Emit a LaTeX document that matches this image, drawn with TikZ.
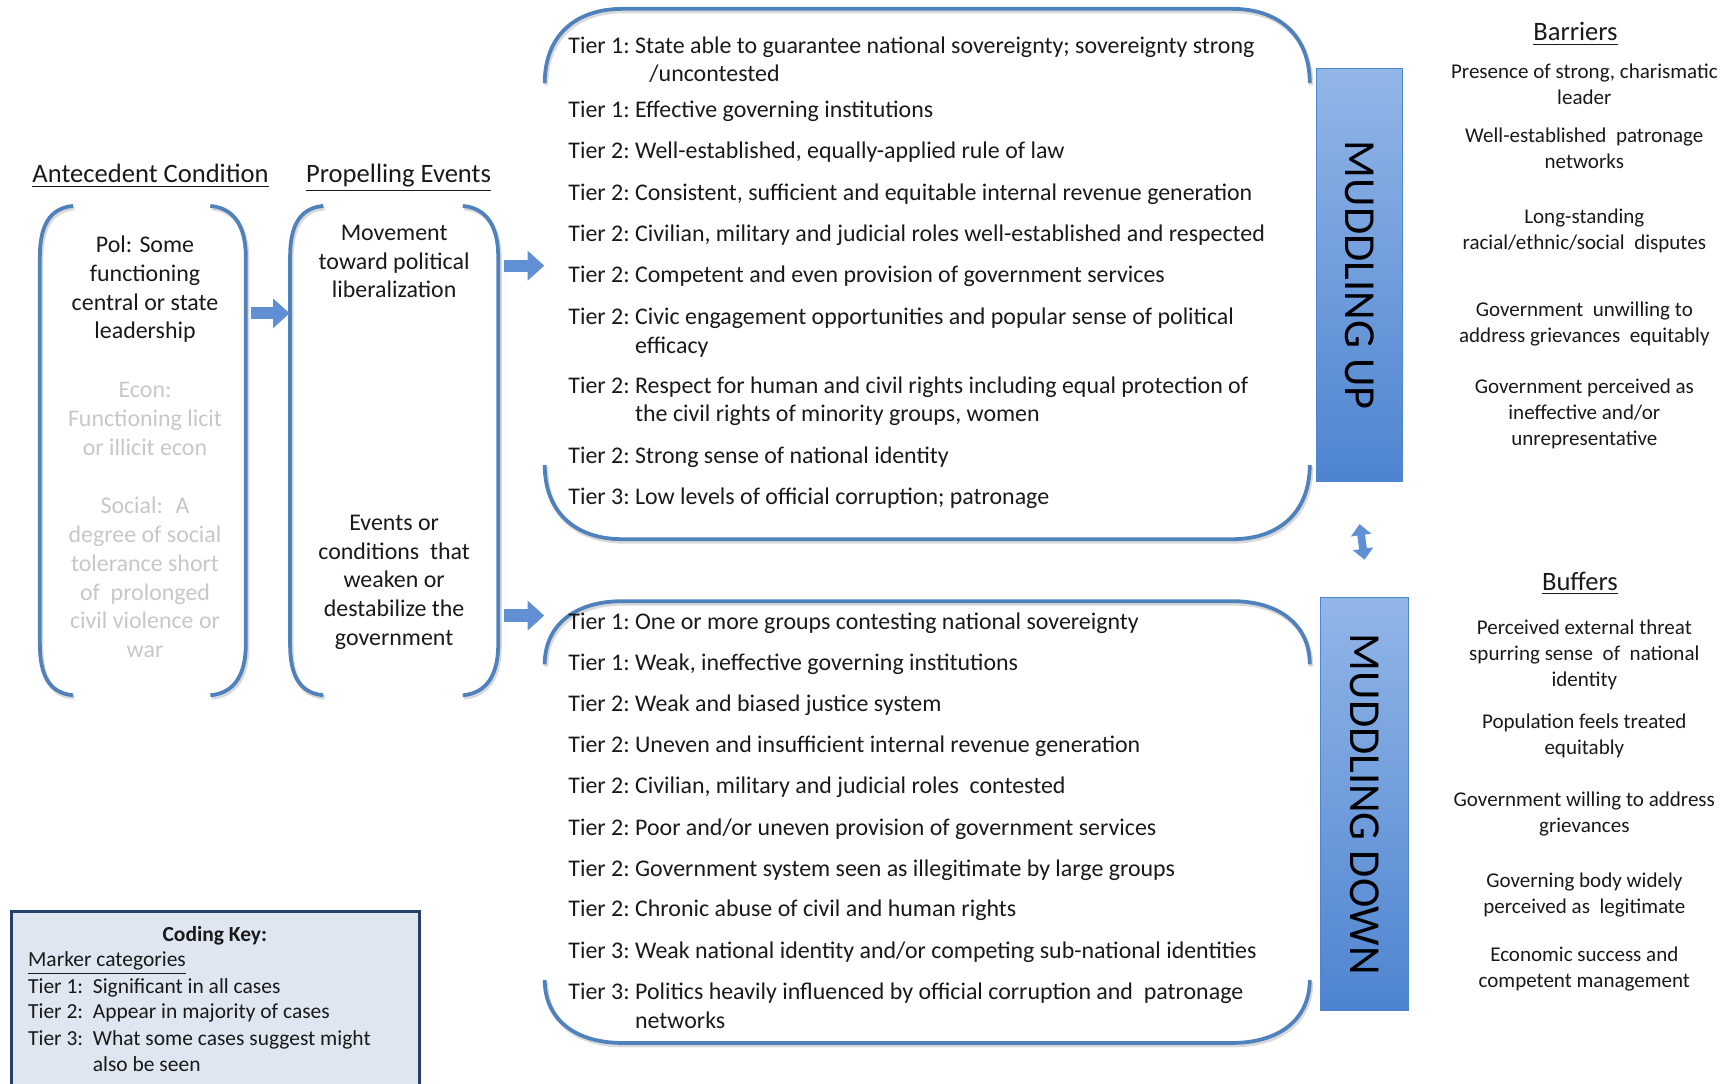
\documentclass[tikz,border=0pt]{standalone}
\usepackage{fontspec}
\setmainfont{Carlito}
\usetikzlibrary{arrows.meta,fit}
\definecolor{offblue}{RGB}{79,129,189}
\definecolor{arrowblue}{RGB}{96,143,212}
\definecolor{bartop}{RGB}{146,182,232}
\definecolor{barbot}{RGB}{78,132,208}
\definecolor{keyfill}{RGB}{222,231,241}
\definecolor{keyline}{RGB}{36,64,110}
\newcommand{\tier}[2]{Tier #1:~\begin{tabular}[t]{@{}l@{}}#2\end{tabular}}
\newcommand{\keytier}[2]{Tier #1:~~\begin{tabular}[t]{@{}l@{}}#2\end{tabular}}
\newcommand{\cstack}[1]{\begin{tabular}[t]{@{}c@{}}#1\end{tabular}}
\begin{document}
\begin{tikzpicture}[x=0.5pt,y=-0.5pt,
	every node/.style={inner sep=0pt,text=black!90},
	bracket/.style={draw=offblue,line width=1.7pt,preaction={draw=black!15,line width=2pt,transform canvas={shift={(0.6pt,-1pt)}}}},
	blockarrow/.style={draw=arrowblue,line width=5.5pt,-{Triangle[width=13pt,length=7.5pt]}},
	dblarrow/.style={draw=arrowblue,line width=3.5pt,{Triangle[width=9pt,length=5pt]}-{Triangle[width=9pt,length=5pt]}},
	colhead/.style={anchor=base,font=\fontsize{12}{14}\selectfont},
	boxtext/.style={anchor=base,font=\fontsize{10.8}{13}\selectfont},
	ghosttext/.style={boxtext,text=black!22},
	tierline/.style={anchor=base west,font=\fontsize{10.8}{13}\selectfont},
	sidetext/.style={anchor=base,font=\fontsize{9.5}{11.75}\selectfont},
	bar/.style={draw=barbot,top color=bartop,bottom color=barbot},
	bartext/.style={rotate=-90,font=\fontsize{20}{20}\selectfont,text=black},
	keytext/.style={anchor=base west,font=\fontsize{9.7}{11.75}\selectfont}]
	\useasboundingbox (0,0) rectangle (1568,979);

	% column headings
	\node[colhead] (antehead) at (136,165) {\underline{Antecedent Condition}};
	\node[colhead] (prophead) at (360,165) {\underline{Propelling Events}};
	\node[colhead] (barrhead) at (1423,37) {\underline{Barriers}};
	\node[colhead] (buffhead) at (1427,533) {\underline{Buffers}};

	% antecedent condition
	\node[fit={(36,186) (222,628)}] (ante) {};
	\draw[bracket] (66,186) .. controls (44,188) and (36,205) .. (36,232) -- (36,582) .. controls (36,609) and (44,626) .. (66,628);
	\draw[bracket] (190,186) .. controls (212,188) and (222,205) .. (222,232) -- (222,582) .. controls (222,609) and (212,626) .. (190,628);
	\node[boxtext] (pol) at (131,228) {\cstack{Pol: Some\\functioning\\central or state\\leadership}};
	\node[ghosttext] (econ) at (131,359) {\cstack{Econ:\\Functioning licit\\or illicit econ}};
	\node[ghosttext] (social) at (131,464) {\cstack{Social:~ A\\degree of social\\tolerance short\\of~ prolonged\\civil violence or\\war}};

	% propelling events
	\node[fit={(262,186) (450,628)}] (prop) {};
	\draw[bracket] (292,186) .. controls (270,188) and (262,205) .. (262,232) -- (262,582) .. controls (262,609) and (270,626) .. (292,628);
	\draw[bracket] (418,186) .. controls (440,188) and (450,205) .. (450,232) -- (450,582) .. controls (450,609) and (440,626) .. (418,628);
	\node[boxtext] (move) at (356,217) {\cstack{Movement\\toward political\\liberalization}};
	\node[boxtext] (weaken) at (356,479) {\cstack{Events or\\conditions~ that\\weaken or\\destabilize the\\government}};

	% muddling up markers
	\node[fit={(492,8) (1183,487)}] (upper) {};
	\draw[bracket] (492,75) .. controls (492,32) and (520,8) .. (562,8) -- (1113,8) .. controls (1155,8) and (1183,32) .. (1183,75);
	\draw[bracket] (492,420) .. controls (492,463) and (520,487) .. (562,487) -- (1113,487) .. controls (1155,487) and (1183,463) .. (1183,420);
	\node[tierline] (up1) at (513,48) {\tier{1}{State able to guarantee national sovereignty; sovereignty strong\\\hspace{0.6em}/uncontested}};
	\node[tierline] (up2) at (513,106) {\tier{1}{Effective governing institutions}};
	\node[tierline] (up3) at (513,143) {\tier{2}{Well-established, equally-applied rule of law}};
	\node[tierline] (up4) at (513,181) {\tier{2}{Consistent, sufficient and equitable internal revenue generation}};
	\node[tierline] (up5) at (513,218) {\tier{2}{Civilian, military and judicial roles well-established and respected}};
	\node[tierline] (up6) at (513,255) {\tier{2}{Competent and even provision of government services}};
	\node[tierline] (up7) at (513,293) {\tier{2}{Civic engagement opportunities and popular sense of political\\efficacy}};
	\node[tierline] (up8) at (513,355) {\tier{2}{Respect for human and civil rights including equal protection of\\the civil rights of minority groups, women}};
	\node[tierline] (up9) at (513,419) {\tier{2}{Strong sense of national identity}};
	\node[tierline] (up10) at (513,456) {\tier{3}{Low levels of official corruption; patronage}};

	% muddling down markers
	\node[fit={(492,543) (1183,942)}] (lower) {};
	\draw[bracket] (492,600) .. controls (492,564) and (520,543) .. (562,543) -- (1113,543) .. controls (1155,543) and (1183,564) .. (1183,600);
	\draw[bracket] (492,885) .. controls (492,921) and (520,942) .. (562,942) -- (1113,942) .. controls (1155,942) and (1183,921) .. (1183,885);
	\node[tierline] (dn1) at (513,569) {\tier{1}{One or more groups contesting national sovereignty}};
	\node[tierline] (dn2) at (513,606) {\tier{1}{Weak, ineffective governing institutions}};
	\node[tierline] (dn3) at (513,643) {\tier{2}{Weak and biased justice system}};
	\node[tierline] (dn4) at (513,680) {\tier{2}{Uneven and insufficient internal revenue generation}};
	\node[tierline] (dn5) at (513,717) {\tier{2}{Civilian, military and judicial roles~ contested}};
	\node[tierline] (dn6) at (513,755) {\tier{2}{Poor and/or uneven provision of government services}};
	\node[tierline] (dn7) at (513,792) {\tier{2}{Government system seen as illegitimate by large groups}};
	\node[tierline] (dn8) at (513,828) {\tier{2}{Chronic abuse of civil and human rights}};
	\node[tierline] (dn9) at (513,866) {\tier{3}{Weak national identity and/or competing sub-national identities}};
	\node[tierline] (dn10) at (513,903) {\tier{3}{Politics heavily influenced by official corruption and~ patronage\\networks}};

	% bars
	\node[bar,fit={(1189,62) (1267,435)}] (upbar) {};
	\node[bartext] (uplabel) at (upbar.center) {MUDDLING UP};
	\node[bar,fit={(1193,540) (1272,913)}] (downbar) {};
	\node[bartext] (downlabel) at (downbar.center) {MUDDLING DOWN};

	% barriers
	\node[sidetext] (bar1) at (1431,71) {\cstack{Presence of strong, charismatic\\leader}};
	\node[sidetext] (bar2) at (1431,129) {\cstack{Well-established~ patronage\\networks}};
	\node[sidetext] (bar3) at (1431,202) {\cstack{Long-standing\\racial/ethnic/social~ disputes}};
	\node[sidetext] (bar4) at (1431,286) {\cstack{Government~ unwilling to\\address grievances~ equitably}};
	\node[sidetext] (bar5) at (1431,355) {\cstack{Government perceived as\\ineffective and/or\\unrepresentative}};

	% buffers
	\node[sidetext] (buf1) at (1431,573) {\cstack{Perceived external threat\\spurring sense~ of~ national\\identity}};
	\node[sidetext] (buf2) at (1431,658) {\cstack{Population feels treated\\equitably}};
	\node[sidetext] (buf3) at (1431,728) {\cstack{Government willing to address\\grievances}};
	\node[sidetext] (buf4) at (1431,802) {\cstack{Governing body widely\\perceived as~ legitimate}};
	\node[sidetext] (buf5) at (1431,868) {\cstack{Economic success and\\competent management}};

	% coding key
	\node[fit={(10,823) (379,1000)},draw=keyline,fill=keyfill,line width=1.3pt] (key) {};
	\node[keytext,anchor=base] (keyhead) at (194,850) {\textbf{Coding Key:}};
	\node[keytext] (keycat) at (25,873) {\underline{Marker categories}};
	\node[keytext] (key1) at (25,897) {\keytier{1}{Significant in all cases}};
	\node[keytext] (key2) at (25,920) {\keytier{2}{Appear in majority of cases}};
	\node[keytext] (key3) at (25,944) {\keytier{3}{What some cases suggest might\\also be seen}};

	% arrows
	\draw[blockarrow] (ante.east |- 0,283) ++(4,0) -- (prop.west |- 0,283);
	\draw[blockarrow] (prop.east |- 0,240) ++(5,0) -- (upper.west |- 0,240);
	\draw[blockarrow] (prop.east |- 0,556) ++(5,0) -- (lower.west |- 0,556);
	\draw[dblarrow] ([yshift=-19pt]upbar.south) -- ([yshift=17pt]downbar.north);
\end{tikzpicture}
\end{document}
